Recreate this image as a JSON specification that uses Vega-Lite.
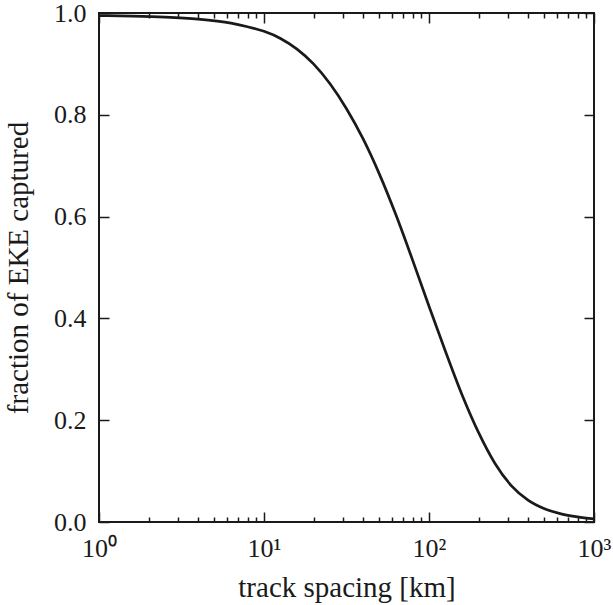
{
  "$schema": "https://vega.github.io/schema/vega-lite/v6.json",
  "width": 495,
  "height": 509,
  "autosize": "none",
  "padding": {"left": 99, "top": 13, "right": 19, "bottom": 83},
  "background": "white",
  "config": {
    "view": {"stroke": "#1a1a1a", "strokeWidth": 2},
    "axis": {
      "grid": false,
      "domain": false,
      "labelFont": "Times New Roman, Liberation Serif, Times, serif",
      "titleFont": "Times New Roman, Liberation Serif, Times, serif",
      "labelColor": "#1a1a1a",
      "titleColor": "#1a1a1a",
      "tickColor": "#1a1a1a",
      "tickWidth": 1.5,
      "labelFontSize": 26,
      "titleFontSize": 29,
      "titleFontWeight": "normal",
      "labelFlush": false,
      "labelOverlap": false
    }
  },
  "data": {
    "values": [
      {"km": 1, "frac": 0.995},
      {"km": 1.585, "frac": 0.994},
      {"km": 2.512, "frac": 0.992},
      {"km": 3.981, "frac": 0.988},
      {"km": 6.31, "frac": 0.98},
      {"km": 7.943, "frac": 0.973},
      {"km": 10, "frac": 0.964},
      {"km": 12.59, "frac": 0.95},
      {"km": 15.85, "frac": 0.929},
      {"km": 19.95, "frac": 0.9},
      {"km": 25.12, "frac": 0.861},
      {"km": 31.62, "frac": 0.812},
      {"km": 39.81, "frac": 0.753},
      {"km": 50.12, "frac": 0.683},
      {"km": 63.1, "frac": 0.603},
      {"km": 79.43, "frac": 0.515},
      {"km": 100, "frac": 0.424},
      {"km": 125.9, "frac": 0.335},
      {"km": 158.5, "frac": 0.25},
      {"km": 199.5, "frac": 0.176},
      {"km": 251.2, "frac": 0.115},
      {"km": 316.2, "frac": 0.071},
      {"km": 398.1, "frac": 0.043},
      {"km": 501.2, "frac": 0.026},
      {"km": 631, "frac": 0.016},
      {"km": 794.3, "frac": 0.01},
      {"km": 1000, "frac": 0.006}
    ]
  },
  "resolve": {"axis": {"x": "independent", "y": "independent"}},
  "layer": [
    {
      "mark": {"type": "line", "color": "#1a1a1a", "strokeWidth": 2.7, "interpolate": "monotone", "clip": true},
      "encoding": {
        "x": {
          "field": "km", "type": "quantitative",
          "scale": {"type": "log", "domain": [1, 1000]},
          "axis": {
            "orient": "bottom",
            "values": [1, 10, 100, 1000],
            "tickSize": -10,
            "labelPadding": 23,
            "labelExpr": "datum.value == 1 ? '10⁰' : datum.value == 10 ? '10¹' : datum.value == 100 ? '10²' : '10³'",
            "title": "track spacing [km]",
            "titlePadding": 12
          }
        },
        "y": {
          "field": "frac", "type": "quantitative",
          "scale": {"domain": [0, 1], "nice": false},
          "axis": {
            "orient": "left",
            "values": [0, 0.2, 0.4, 0.6, 0.8, 1],
            "format": ".1f",
            "tickSize": -10,
            "labelPadding": 23,
            "title": "fraction of EKE captured",
            "titlePadding": 20
          }
        }
      }
    },
    {
      "mark": {"type": "line", "opacity": 0},
      "encoding": {
        "x": {
          "field": "km", "type": "quantitative",
          "scale": {"type": "log", "domain": [1, 1000]},
          "axis": {"orient": "bottom", "values": [2,3,4,5,6,7,8,9,20,30,40,50,60,70,80,90,200,300,400,500,600,700,800,900], "tickSize": -5, "labels": false, "title": null}
        },
        "y": {
          "field": "frac", "type": "quantitative",
          "scale": {"domain": [0, 1], "nice": false},
          "axis": {"orient": "right", "values": [0, 0.2, 0.4, 0.6, 0.8, 1], "tickSize": -10, "labels": false, "title": null}
        }
      }
    },
    {
      "mark": {"type": "line", "opacity": 0},
      "encoding": {
        "x": {
          "field": "km", "type": "quantitative",
          "scale": {"type": "log", "domain": [1, 1000]},
          "axis": {"orient": "top", "values": [1, 10, 100, 1000], "tickSize": -10, "labels": false, "title": null}
        },
        "y": {
          "field": "frac", "type": "quantitative",
          "scale": {"domain": [0, 1], "nice": false},
          "axis": null
        }
      }
    },
    {
      "mark": {"type": "line", "opacity": 0},
      "encoding": {
        "x": {
          "field": "km", "type": "quantitative",
          "scale": {"type": "log", "domain": [1, 1000]},
          "axis": {"orient": "top", "values": [2,3,4,5,6,7,8,9,20,30,40,50,60,70,80,90,200,300,400,500,600,700,800,900], "tickSize": -5, "labels": false, "title": null}
        },
        "y": {
          "field": "frac", "type": "quantitative",
          "scale": {"domain": [0, 1], "nice": false},
          "axis": null
        }
      }
    }
  ]
}
